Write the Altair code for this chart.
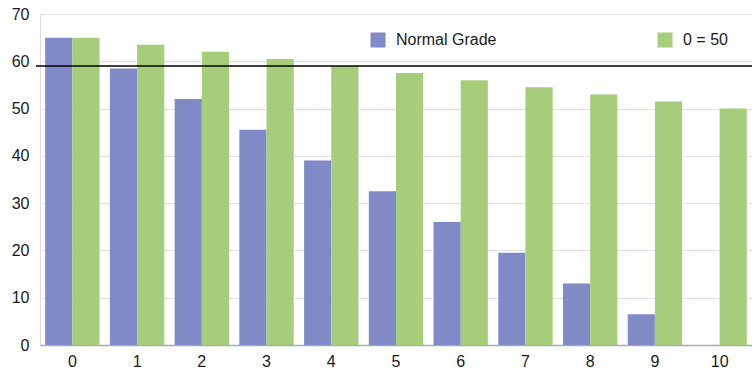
import altair as alt
import pandas as pd

# Score after each step for the two grading schemes
steps = [0, 1, 2, 3, 4, 5, 6, 7, 8, 9, 10]
normal_grade = [65, 58.5, 52, 45.5, 39, 32.5, 26, 19.5, 13, 6.5, 0]
zero_is_fifty = [65, 63.5, 62, 60.5, 59, 57.5, 56, 54.5, 53, 51.5, 50]
series_names = ["Normal Grade", "0 = 50"]
series_colors = ["#8189C7", "#A6CE7A"]
threshold = [59]

rows = []
for s, a, b in zip(steps, normal_grade, zero_is_fifty):
    rows.append({"step": s, "series": series_names[0], "value": a})
    rows.append({"step": s, "series": series_names[1], "value": b})
df = pd.DataFrame(rows)

font = "Liberation Sans"
text_color = "#1a1a1a"

bars = alt.Chart(df).mark_bar().encode(
    x=alt.X(
        "step:O",
        title=None,
        scale=alt.Scale(paddingInner=0.16, paddingOuter=0.08),
        axis=alt.Axis(
            labelAngle=0, labelFontSize=16, labelColor=text_color, labelFont=font,
            ticks=False, domainColor="#aaaaaa", domainWidth=1.5, labelPadding=8,
        ),
    ),
    xOffset=alt.XOffset("series:N", sort=series_names),
    y=alt.Y(
        "value:Q",
        title=None,
        scale=alt.Scale(domain=[0, 70], nice=False),
        axis=alt.Axis(
            values=[0, 10, 20, 30, 40, 50, 60, 70], labelFontSize=16,
            labelColor=text_color, labelFont=font, ticks=False, domain=False,
            gridColor="#e2e2e2", gridWidth=1, labelPadding=11,
        ),
    ),
    color=alt.Color(
        "series:N",
        sort=series_names,
        scale=alt.Scale(domain=series_names, range=series_colors),
        legend=alt.Legend(
            title=None, orient="none", legendX=330, legendY=18,
            direction="horizontal", symbolType="square", symbolSize=225,
            symbolStrokeWidth=0, labelFontSize=16, labelFont=font,
            labelColor=text_color, columnPadding=160, labelOffset=10,
        ),
    ),
)

line = alt.Chart(pd.DataFrame({"y": threshold})).mark_rule(
    color="black", strokeWidth=1.5
).encode(y="y:Q", x=alt.value(-4), x2=alt.value(712))

chart = (
    (bars + line)
    .properties(width=712, height=331, padding={"left": 40, "top": 14, "right": 0, "bottom": 31})
    .configure_view(stroke=None)
    .configure(autosize=alt.AutoSizeParams(type="none"))
)

chart.save("out.html", embed_options={"renderer": "svg", "actions": False})
